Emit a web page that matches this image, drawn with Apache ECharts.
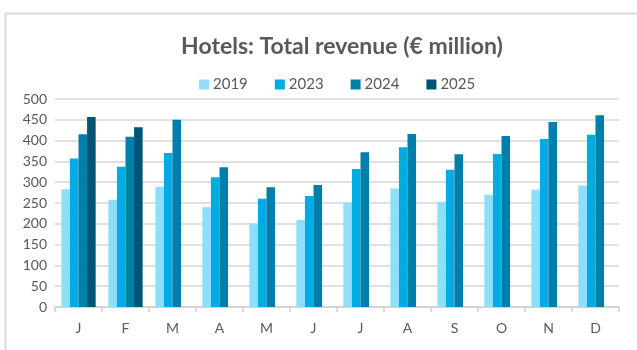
<!DOCTYPE html>
<html>
<head>
<meta charset="utf-8">
<script src="https://cdn.jsdelivr.net/npm/echarts@6/dist/echarts.min.js"></script>
<style>
  html, body { margin: 0; padding: 0; background: #fff; }
  #chart { width: 637px; height: 350px; }
</style>
</head>
<body>
<div id="chart"></div>
<script>
// Monthly hotel revenue, € million
const months = ['J', 'F', 'M', 'A', 'M', 'J', 'J', 'A', 'S', 'O', 'N', 'D'];
const rev2019 = [283, 258, 289, 240, 201, 210, 251, 285, 253, 270, 282, 292];
const rev2023 = [357, 337, 370, 312, 260, 267, 332, 384, 330, 368, 404, 414];
const rev2024 = [415, 409, 450, 336, 288, 293, 372, 416, 367, 411, 445, 461];
const rev2025 = [457, 432, null, null, null, null, null, null, null, null, null, null];
const yTicks = { min: 0, max: 500, interval: 50 };

const seriesDefs = [
  { name: '2019', data: rev2019, color: '#8fdffa' },
  { name: '2023', data: rev2023, color: '#00ace2' },
  { name: '2024', data: rev2024, color: '#007fa8' },
  { name: '2025', data: rev2025, color: '#005473' }
];

const textColor = '#595959';
const fontFamily = 'Lato, "Open Sans", sans-serif';

const chart = echarts.init(document.getElementById('chart'), null, { renderer: 'canvas' });
chart.setOption({
  animation: false,
  backgroundColor: '#ffffff',
  graphic: [{
    type: 'rect',
    left: 3, top: 11,
    shape: { width: 700, height: 400 },
    style: { fill: 'none', stroke: '#d9d9d9', lineWidth: 2 },
    silent: true
  }],
  title: {
    text: 'Hotels: Total revenue (€ million)',
    left: 337,
    textAlign: 'center',
    top: 30,
    textStyle: { color: textColor, fontFamily, fontWeight: 'bold', fontSize: 23 }
  },
  legend: {
    left: 194,
    top: 72,
    itemWidth: 10,
    itemHeight: 10,
    itemGap: 27,
    icon: 'rect',
    textStyle: { color: textColor, fontFamily, fontSize: 15, padding: [0, 0, 0, -1] },
    data: seriesDefs.map(s => s.name)
  },
  grid: { left: 55, right: 18, top: 99, bottom: 43, containLabel: false },
  xAxis: {
    type: 'category',
    data: months,
    axisLine: { show: true, lineStyle: { color: '#d0d0d0', width: 1.5 } },
    axisTick: { show: true, length: 5, lineStyle: { color: '#d0d0d0', width: 1.5 } },
    axisLabel: { color: textColor, fontFamily, fontSize: 14, margin: 14 },
    splitLine: { show: false }
  },
  yAxis: {
    type: 'value',
    min: yTicks.min,
    max: yTicks.max,
    interval: yTicks.interval,
    axisLine: { show: false },
    axisTick: { show: false },
    axisLabel: { color: textColor, fontFamily, fontSize: 14, margin: 8 },
    splitLine: { lineStyle: { color: '#d6d6d6', width: 1.5 } }
  },
  series: seriesDefs.map(s => ({
    name: s.name,
    type: 'bar',
    data: s.data,
    barGap: '0%',
    barCategoryGap: '27%',
    itemStyle: { color: s.color }
  }))
});
</script>
</body>
</html>
